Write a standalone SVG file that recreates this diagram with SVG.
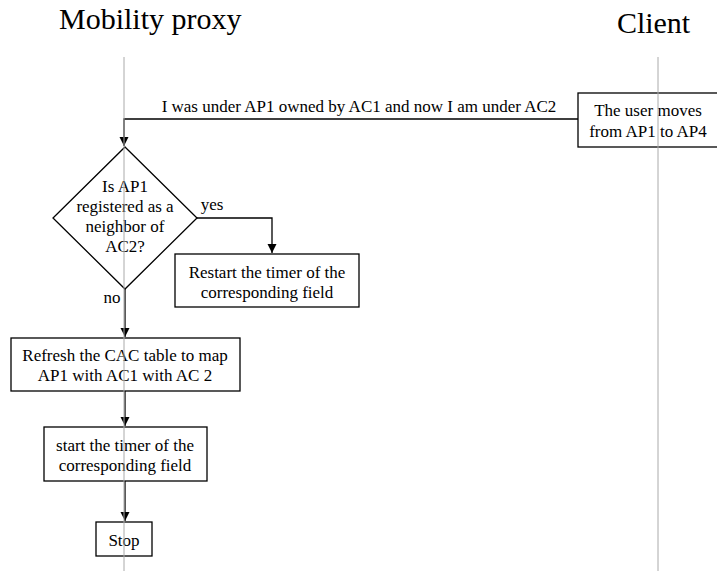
<svg xmlns="http://www.w3.org/2000/svg" width="717" height="571" viewBox="0 0 717 571">
<defs>
<marker id="arr" markerWidth="10" markerHeight="10" refX="9" refY="5" orient="auto" markerUnits="userSpaceOnUse">
<path d="M0,0.5 L9,5 L0,9.5 Z" fill="#000"/>
</marker>
</defs>
<style>
text{font-family:"Liberation Serif","Times New Roman",serif;fill:#000}
.t{font-size:17px;text-anchor:middle}
.title{font-size:30px}
.life{stroke:#aaa;stroke-width:1;fill:none}
.box{fill:#fff;stroke:#000;stroke-width:1.3}
.c{stroke:#000;stroke-width:1.3;fill:none}
</style>
<rect width="717" height="571" fill="#fff"/>
<g id="titles">
<text class="title" x="59" y="29">Mobility proxy</text>
<text class="title" x="617" y="33" textLength="73">Client</text>
</g>
<g id="connectors">
<path class="c" d="M578,119 H124 V146" marker-end="url(#arr)"/>
<path class="c" d="M197,218 H272 V253" marker-end="url(#arr)"/>
<path class="c" d="M125,289 V337" marker-end="url(#arr)"/>
<path class="c" d="M125,391 V426" marker-end="url(#arr)"/>
<path class="c" d="M125,481 V521" marker-end="url(#arr)"/>
<text class="t" x="359" y="112">I was under AP1 owned by AC1 and now I am under AC2</text>
<text class="t" x="212" y="210">yes</text>
<text class="t" x="112" y="303">no</text>
</g>
<g id="client-box">
<rect class="box" x="578" y="93" width="142" height="54"/>
<text class="t" x="648" y="116">The user moves</text>
<text class="t" x="648" y="137">from AP1 to AP4</text>
</g>
<g id="decision">
<path class="box" d="M125,147 L197,218 L125,289 L53,218 Z"/>
<text class="t" x="125" y="192">Is AP1</text>
<text class="t" x="125" y="212">registered as a</text>
<text class="t" x="125" y="232">neighbor of</text>
<text class="t" x="125" y="252">AC2?</text>
</g>
<g id="restart">
<rect class="box" x="175" y="254" width="184" height="53"/>
<text class="t" x="267" y="278">Restart the timer of the</text>
<text class="t" x="267" y="298">corresponding field</text>
</g>
<g id="refresh">
<rect class="box" x="11" y="338" width="229" height="53"/>
<text class="t" x="125" y="361">Refresh the CAC table to map</text>
<text class="t" x="125" y="381">AP1 with AC1 with AC 2</text>
</g>
<g id="start">
<rect class="box" x="44" y="427" width="163" height="54"/>
<text class="t" x="125" y="451">start the timer of the</text>
<text class="t" x="125" y="471">corresponding field</text>
</g>
<g id="stop">
<rect class="box" x="96" y="522" width="56" height="34"/>
<text class="t" x="124" y="546">Stop</text>
</g>
<g id="lifelines">
<line class="life" x1="124" y1="57" x2="124" y2="571"/>
<line class="life" x1="658" y1="57" x2="658" y2="571"/>
</g>
</svg>
